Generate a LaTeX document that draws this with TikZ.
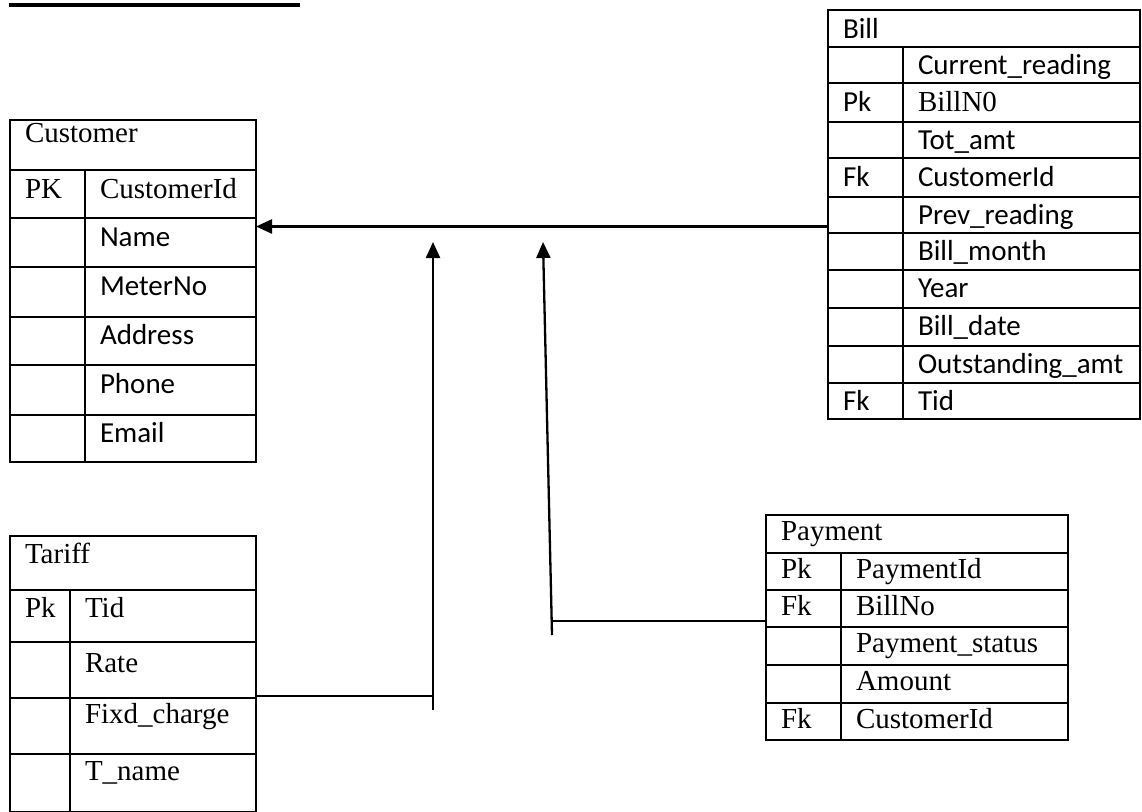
\documentclass[tikz,border=0pt]{standalone}
\usepackage{fontspec}
\setmainfont{Liberation Serif}
\newfontfamily\calibri{Carlito}
\usetikzlibrary{arrows.meta}

\tikzset{
  cellbox/.style={draw, line width=2.6pt, rectangle, inner sep=0pt, outer sep=0pt, anchor=north west},
  celltext/.style={anchor=base west, inner sep=0pt, outer sep=0pt},
  conn/.style={line width=2.3pt},
  tip/.style={-{Triangle[length=16pt,width=14pt]}},
}

% cell with text: name, x, y, width, height, baseline offset, font, text
\newcommand{\ercell}[8]{%
  \node[cellbox, minimum width=#4pt, minimum height=#5pt] (#1) at (#2,#3) {};
  \node[celltext, font=#7] (#1-t) at ([xshift=15pt, yshift=-#6pt]#1.north west) {#8};
}
% empty cell: name, x, y, width, height
\newcommand{\erbox}[5]{%
  \node[cellbox, minimum width=#4pt, minimum height=#5pt] (#1) at (#2,#3) {};
}

\begin{document}
\fontsize{29pt}{34pt}\selectfont
\begin{tikzpicture}[x=1pt, y=-1pt]
\useasboundingbox (0,0) rectangle (1142,811);
\clip (0,0) rectangle (1142,811);
\fill[white] (0,0) rectangle (1142,811);

% heading rule
\fill[black] (9,3) rectangle (300,7);

% ---------- Customer ----------
\ercell{ch}{10}{120}{246}{50}{22}{}{Customer}
\ercell{ck1}{10}{170}{75}{48}{28}{}{PK}
\ercell{cv1}{85}{170}{171}{48}{28}{}{CustomerId}
\erbox{ck2}{10}{218}{75}{49}
\ercell{cv2}{85}{218}{171}{49}{28}{\calibri}{Name}
\erbox{ck3}{10}{267}{75}{50}
\ercell{cv3}{85}{267}{171}{50}{28}{\calibri}{MeterNo}
\erbox{ck4}{10}{317}{75}{48}
\ercell{cv4}{85}{317}{171}{48}{27}{\calibri}{Address}
\erbox{ck5}{10}{365}{75}{50}
\ercell{cv5}{85}{365}{171}{50}{28}{\calibri}{Phone}
\erbox{ck6}{10}{415}{75}{47}
\ercell{cv6}{85}{415}{171}{47}{27}{\calibri}{Email}

% ---------- Tariff ----------
\ercell{th}{10}{536}{246}{54}{27}{}{Tariff}
\ercell{tk1}{10}{590}{60}{52}{27}{}{Pk}
\ercell{tv1}{70}{590}{186}{52}{27}{}{Tid}
\erbox{tk2}{10}{642}{60}{56}
\ercell{tv2}{70}{642}{186}{56}{30}{}{Rate}
\erbox{tk3}{10}{698}{60}{56}
\ercell{tv3}{70}{698}{186}{56}{25}{}{Fixd\_charge}
\erbox{tk4}{10}{754}{60}{58}
\ercell{tv4}{70}{754}{186}{58}{26}{}{T\_name}

% ---------- Bill ----------
\ercell{bh}{828}{10}{312}{37}{28}{\calibri}{Bill}
\erbox{bk1}{828}{47}{75}{36}
\ercell{bv1}{903}{47}{237}{36}{27}{\calibri}{Current\_reading}
\ercell{bk2}{828}{83}{75}{39}{28}{\calibri}{Pk}
\ercell{bv2}{903}{83}{237}{39}{28}{}{BillN0}
\erbox{bk3}{828}{122}{75}{36}
\ercell{bv3}{903}{122}{237}{36}{27}{\calibri}{Tot\_amt}
\ercell{bk4}{828}{158}{75}{39}{28}{\calibri}{Fk}
\ercell{bv4}{903}{158}{237}{39}{28}{\calibri}{CustomerId}
\erbox{bk5}{828}{197}{75}{36}
\ercell{bv5}{903}{197}{237}{36}{27}{\calibri}{Prev\_reading}
\erbox{bk6}{828}{233}{75}{37}
\ercell{bv6}{903}{233}{237}{37}{27}{\calibri}{Bill\_month}
\erbox{bk7}{828}{270}{75}{38}
\ercell{bv7}{903}{270}{237}{38}{27}{\calibri}{Year}
\erbox{bk8}{828}{308}{75}{38}
\ercell{bv8}{903}{308}{237}{38}{27}{\calibri}{Bill\_date}
\erbox{bk9}{828}{346}{75}{37}
\ercell{bv9}{903}{346}{237}{37}{27}{\calibri}{Outstanding\_amt}
\ercell{bk10}{828}{383}{75}{36}{27}{\calibri}{Fk}
\ercell{bv10}{903}{383}{237}{36}{27}{\calibri}{Tid}

% ---------- Payment ----------
\ercell{ph}{766}{515}{302}{38}{25}{}{Payment}
\ercell{pk1}{766}{553}{75}{37}{25}{}{Pk}
\ercell{pv1}{841}{553}{227}{37}{25}{}{PaymentId}
\ercell{pk2}{766}{590}{75}{37}{25}{}{Fk}
\ercell{pv2}{841}{590}{227}{37}{25}{}{BillNo}
\erbox{pk3}{766}{627}{75}{38}
\ercell{pv3}{841}{627}{227}{38}{25}{}{Payment\_status}
\erbox{pk4}{766}{665}{75}{38}
\ercell{pv4}{841}{665}{227}{38}{25}{}{Amount}
\ercell{pk5}{766}{703}{75}{37}{25}{}{Fk}
\ercell{pv5}{841}{703}{227}{37}{25}{}{CustomerId}

% ---------- connectors ----------
% Bill.CustomerId -> Customer
\coordinate (fkb) at ([yshift=-29.5pt]bk5.north west);
\draw[conn, tip] (fkb) -- (fkb -| cv2.east);

% Tariff -> Bill.Tid
\coordinate (fkt) at ([yshift=2pt]tv2.south east);
\coordinate (jta) at (433,242);
\coordinate (jtb) at (433,710);
\draw[conn] (fkt) -- (fkt -| jtb);
\draw[conn, tip] (jtb) -- (jta);

% Payment.BillNo -> Bill
\coordinate (fkp) at ([yshift=-31pt]pk2.north west);
\coordinate (jpa) at (543,242);
\coordinate (jpb) at (552,635);
\draw[conn] (fkp) -- (fkp -| jpb);
\draw[conn, tip] (jpb) -- (jpa);
\end{tikzpicture}
\end{document}
